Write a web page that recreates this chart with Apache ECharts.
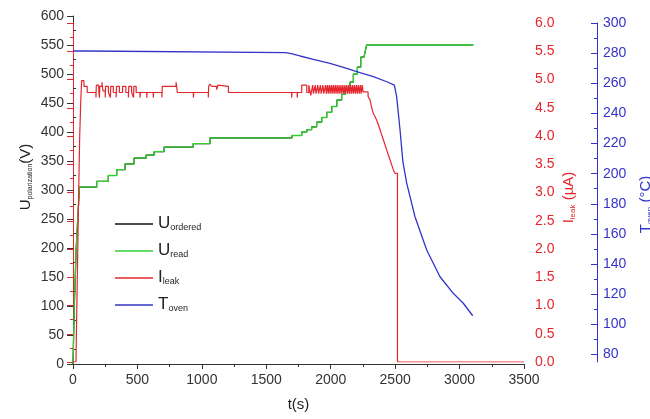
<!DOCTYPE html>
<html>
<head>
<meta charset="utf-8">
<script src="https://cdn.jsdelivr.net/npm/echarts@6.0.0/dist/echarts.min.js"></script>
<style>
  html, body { margin: 0; padding: 0; background: #fff; }
  #chart { width: 650px; height: 419px; }
</style>
</head>
<body>
<div id="chart"></div>
<script>
// U_read (V) against t (s), corners of the staircase
const uRead = [
  [0, 0], [10, 100], [25, 200], [50, 305], [184, 305], [184, 315], [274, 315], [274, 325],
  [339, 325], [339, 335], [404, 335], [404, 345], [474, 345], [474, 355], [567, 355], [567, 360],
  [629, 360], [629, 366], [707, 366], [707, 374], [933, 374], [933, 380], [1064, 380], [1064, 390],
  [1700, 390], [1700, 394], [1775, 394], [1775, 400], [1814, 400], [1814, 404], [1852, 404],
  [1852, 409], [1891, 409], [1891, 417], [1930, 417], [1930, 425], [1969, 425], [1969, 434],
  [2008, 434], [2008, 444], [2047, 444], [2047, 455], [2085, 455], [2085, 465], [2111, 465],
  [2111, 475], [2150, 475], [2150, 486], [2176, 486], [2176, 500], [2207, 500], [2207, 512],
  [2233, 512], [2233, 529], [2258, 529], [2279, 550], [3107, 550]
];
// U_ordered lies under U_read in the figure
const uOrdered = uRead;

// I_leak (uA), step values: each value holds until the next time
const iLeak = [
  [0, 0], [23, 0], [30, 1.0], [37, 2.0], [44, 3.0], [52, 4.0], [60, 4.6], [67, 4.98], [85, 4.88],
  [110, 4.77], [178, 4.68], [181, 4.9], [200, 4.8], [205, 4.68], [208, 4.88], [225, 4.95],
  [232, 4.8], [250, 4.68], [253, 4.88], [275, 4.77], [290, 4.68], [293, 4.88], [313, 4.77],
  [335, 4.68], [338, 4.88], [360, 4.77], [385, 4.88], [410, 4.77], [430, 4.68], [433, 4.88],
  [455, 4.77], [470, 4.68], [473, 4.88], [490, 4.77], [520, 4.68], [523, 4.77], [572, 4.68],
  [575, 4.77], [623, 4.68], [626, 4.77], [690, 4.68], [693, 4.88], [760, 4.85], [775, 4.88],
  [800, 4.95], [810, 4.77], [934, 4.68], [937, 4.77], [1050, 4.68], [1053, 4.88], [1063, 4.92],
  [1075, 4.88], [1115, 4.82], [1125, 4.9], [1135, 4.88], [1206, 4.77], [1697, 4.68], [1700, 4.77],
  [1740, 4.68], [1743, 4.77], [1775, 4.9], [1814, 4.77], [1830, 4.9], [1845, 4.72],
  [1860, 4.9], [1866, 4.75], [1880, 4.9], [1886, 4.75], [1900, 4.9], [1906, 4.75],
  [1920, 4.9], [1926, 4.75], [1940, 4.9], [1946, 4.75], [1960, 4.9], [1966, 4.75],
  [1975, 4.9], [1981, 4.75], [1990, 4.9], [1996, 4.75], [2005, 4.9], [2011, 4.75],
  [2020, 4.9], [2026, 4.75], [2035, 4.9], [2041, 4.75], [2050, 4.9], [2056, 4.75],
  [2065, 4.9], [2071, 4.75], [2080, 4.9], [2086, 4.75], [2095, 4.9], [2101, 4.75],
  [2110, 4.9], [2116, 4.75], [2125, 4.9], [2131, 4.75], [2140, 4.9], [2146, 4.75],
  [2155, 4.9], [2161, 4.75], [2170, 4.9], [2176, 4.75], [2185, 4.9], [2191, 4.75],
  [2200, 4.9], [2206, 4.75], [2215, 4.9], [2221, 4.75], [2230, 4.9], [2236, 4.75],
  [2245, 4.9], [2251, 4.78], [2290, 4.7], [2305, 4.64], [2318, 4.5], [2331, 4.4], [2344, 4.34],
  [2357, 4.28], [2370, 4.2], [2383, 4.11], [2396, 4.02], [2409, 3.93], [2422, 3.84], [2435, 3.75],
  [2448, 3.66], [2460, 3.58], [2473, 3.49], [2486, 3.4], [2499, 3.34], [2518, 0], [3500, 0]
];

// T_oven (degC)
const tOven = [
  [0, 281.4], [110, 281.4], [125, 280.3], [1650, 280.3], [1684, 279.9], [1762, 278.1],
  [1865, 275.9], [1995, 273.2], [2124, 269.9], [2227, 267], [2331, 264.4], [2435, 261],
  [2494, 258.8], [2512, 251], [2538, 229], [2560, 208], [2590, 193.6], [2654, 171.4],
  [2745, 149.3], [2848, 131.6], [2951, 120.6], [3029, 114], [3102, 105.7]
];

// tick values of the oven axis
const tOvenTicks = [80, 100, 120, 140, 160, 180, 200, 220, 240, 260, 280, 300];
const tOvenMinor = [90, 110, 130, 150, 170, 190, 210, 230, 250, 270, 290];

const FONT = "'Liberation Sans', Arial, sans-serif";
const DARK = "#333";
const RED = "#e5262d";
const BLUE = "#3434c8";
const GREEN = "#2fd22f";

function subRich(color, big, small, drop) {
  return {
    m: { fontFamily: FONT, fontSize: big, lineHeight: big, color: color, padding: [drop, 0, drop + 1, 0] },
    s: { fontFamily: FONT, fontSize: small, lineHeight: small, color: color, verticalAlign: "bottom" }
  };
}

let myChart = echarts.init(document.getElementById("chart"));

let option = {
  animation: false,
  backgroundColor: "#fff",
  grid: [
    { left: 73, right: 126, top: 16, bottom: 55, outerBoundsMode: "none" },
    { left: 73, right: 126, top: 23, bottom: 57, outerBoundsMode: "none" }
  ],
  legend: {
    orient: "vertical",
    left: 110,
    top: 206,
    icon: "rect",
    itemWidth: 38,
    itemHeight: 1.5,
    itemGap: 1,
    data: ["U_ordered", "U_read", "I_leak", "T_oven"],
    formatter: function (name) {
      let p = name.split("_");
      return "{m|" + p[0] + "}{s|" + p[1] + "}";
    },
    textStyle: { rich: subRich("#222", 17, 9, 4) }
  },
  xAxis: [
    {
      gridIndex: 0,
      type: "value",
      min: 0,
      max: 3500,
      interval: 500,
      axisLine: { lineStyle: { color: DARK, width: 1 } },
      axisTick: { inside: false, length: 5, lineStyle: { color: DARK } },
      axisLabel: {
        fontFamily: FONT, fontSize: 14, color: DARK, margin: 9,
        formatter: function (v) { return String(v); }
      },
      splitLine: { show: false },
      name: "t(s)",
      nameLocation: "middle",
      nameGap: 33,
      nameTextStyle: { fontFamily: FONT, fontSize: 15, color: "#222" }
    },
    {
      // minor ticks point inwards
      gridIndex: 0,
      type: "value",
      min: 0,
      max: 3500,
      interval: 500,
      axisLine: { show: false },
      axisTick: { show: false, inside: true },
      minorTick: { show: true, splitNumber: 2, length: 3, lineStyle: { color: DARK } },
      axisLabel: { show: false },
      splitLine: { show: false }
    },
    { gridIndex: 1, type: "value", min: 0, max: 3500, show: false }
  ],
  yAxis: [
    {
      gridIndex: 0,
      type: "value",
      position: "left",
      min: 0,
      max: 600,
      interval: 50,
      axisLine: { show: true, lineStyle: { color: DARK, width: 1 } },
      axisTick: { inside: false, length: 6, lineStyle: { color: DARK } },
      axisLabel: { fontFamily: FONT, fontSize: 14, color: DARK, margin: 9 },
      splitLine: { show: false },
      name: "{m|U}{s|polarization}{m|(V)}",
      nameLocation: "middle",
      nameGap: 39,
      nameMoveOverlap: false,
      nameTextStyle: { rich: subRich("#222", 15, 7, 3), padding: [0, 0, 0, 26] }
    },
    {
      gridIndex: 0,
      type: "value",
      position: "left",
      min: 0,
      max: 600,
      interval: 50,
      axisLine: { show: false },
      axisTick: { show: false, inside: true },
      minorTick: { show: true, splitNumber: 2, length: 3, lineStyle: { color: DARK } },
      axisLabel: { show: false },
      splitLine: { show: false }
    },
    {
      gridIndex: 1,
      type: "value",
      position: "right",
      min: 0,
      max: 6,
      interval: 0.5,
      axisLine: { show: true, lineStyle: { color: RED, width: 1 } },
      axisTick: { inside: true, length: 6, lineStyle: { color: RED } },
      minorTick: { show: true, splitNumber: 2, length: 3, lineStyle: { color: RED } },
      axisLabel: {
        fontFamily: FONT, fontSize: 14, color: RED, margin: 11,
        formatter: function (v) { return v.toFixed(1); }
      },
      splitLine: { show: false },
      name: "{m|I}{s|leak}{m| (\u00b5A)}",
      nameLocation: "middle",
      nameGap: 38,
      nameMoveOverlap: false,
      nameTextStyle: { rich: subRich(RED, 15, 8, 3), padding: [0, 10, 0, 0] }
    },
    {
      gridIndex: 1,
      type: "value",
      position: "right",
      offset: 73,
      min: 75,
      max: 300,
      axisLine: { show: true, lineStyle: { color: BLUE, width: 1 } },
      axisTick: { inside: true, length: 6, lineStyle: { color: BLUE }, customValues: tOvenTicks },
      axisLabel: { fontFamily: FONT, fontSize: 14, color: BLUE, margin: 6, customValues: tOvenTicks },
      splitLine: { show: false },
      name: "{m|T}{s|oven}{m| (\u00b0C)}",
      nameLocation: "middle",
      nameGap: 42,
      nameMoveOverlap: false,
      nameTextStyle: { rich: subRich(BLUE, 15, 8, 3), padding: [0, 24, 0, 0] }
    },
    {
      gridIndex: 1,
      type: "value",
      position: "right",
      offset: 73,
      min: 75,
      max: 300,
      axisLine: { show: false },
      axisTick: { inside: true, length: 3, lineStyle: { color: BLUE }, customValues: tOvenMinor },
      axisLabel: { show: false },
      splitLine: { show: false }
    }
  ],
  series: [
    {
      name: "U_ordered",
      type: "line",
      xAxisIndex: 0,
      yAxisIndex: 0,
      symbol: "none",
      data: uOrdered,
      itemStyle: { color: "#111" },
      lineStyle: { color: "#111", width: 1.2 },
      z: 1
    },
    {
      name: "U_read",
      type: "line",
      xAxisIndex: 0,
      yAxisIndex: 0,
      symbol: "none",
      data: uRead,
      itemStyle: { color: GREEN },
      lineStyle: { color: GREEN, width: 1.3 },
      z: 2
    },
    {
      name: "I_leak",
      type: "line",
      xAxisIndex: 2,
      yAxisIndex: 2,
      symbol: "none",
      step: "end",
      data: iLeak,
      itemStyle: { color: RED },
      lineStyle: { color: RED, width: 1.2 },
      z: 3
    },
    {
      name: "T_oven",
      type: "line",
      xAxisIndex: 2,
      yAxisIndex: 3,
      symbol: "none",
      data: tOven,
      itemStyle: { color: BLUE },
      lineStyle: { color: BLUE, width: 1.3 },
      z: 4
    }
  ]
};

myChart.setOption(option);
window.onresize = function () {
  myChart.resize();
};
</script>
</body>
</html>
